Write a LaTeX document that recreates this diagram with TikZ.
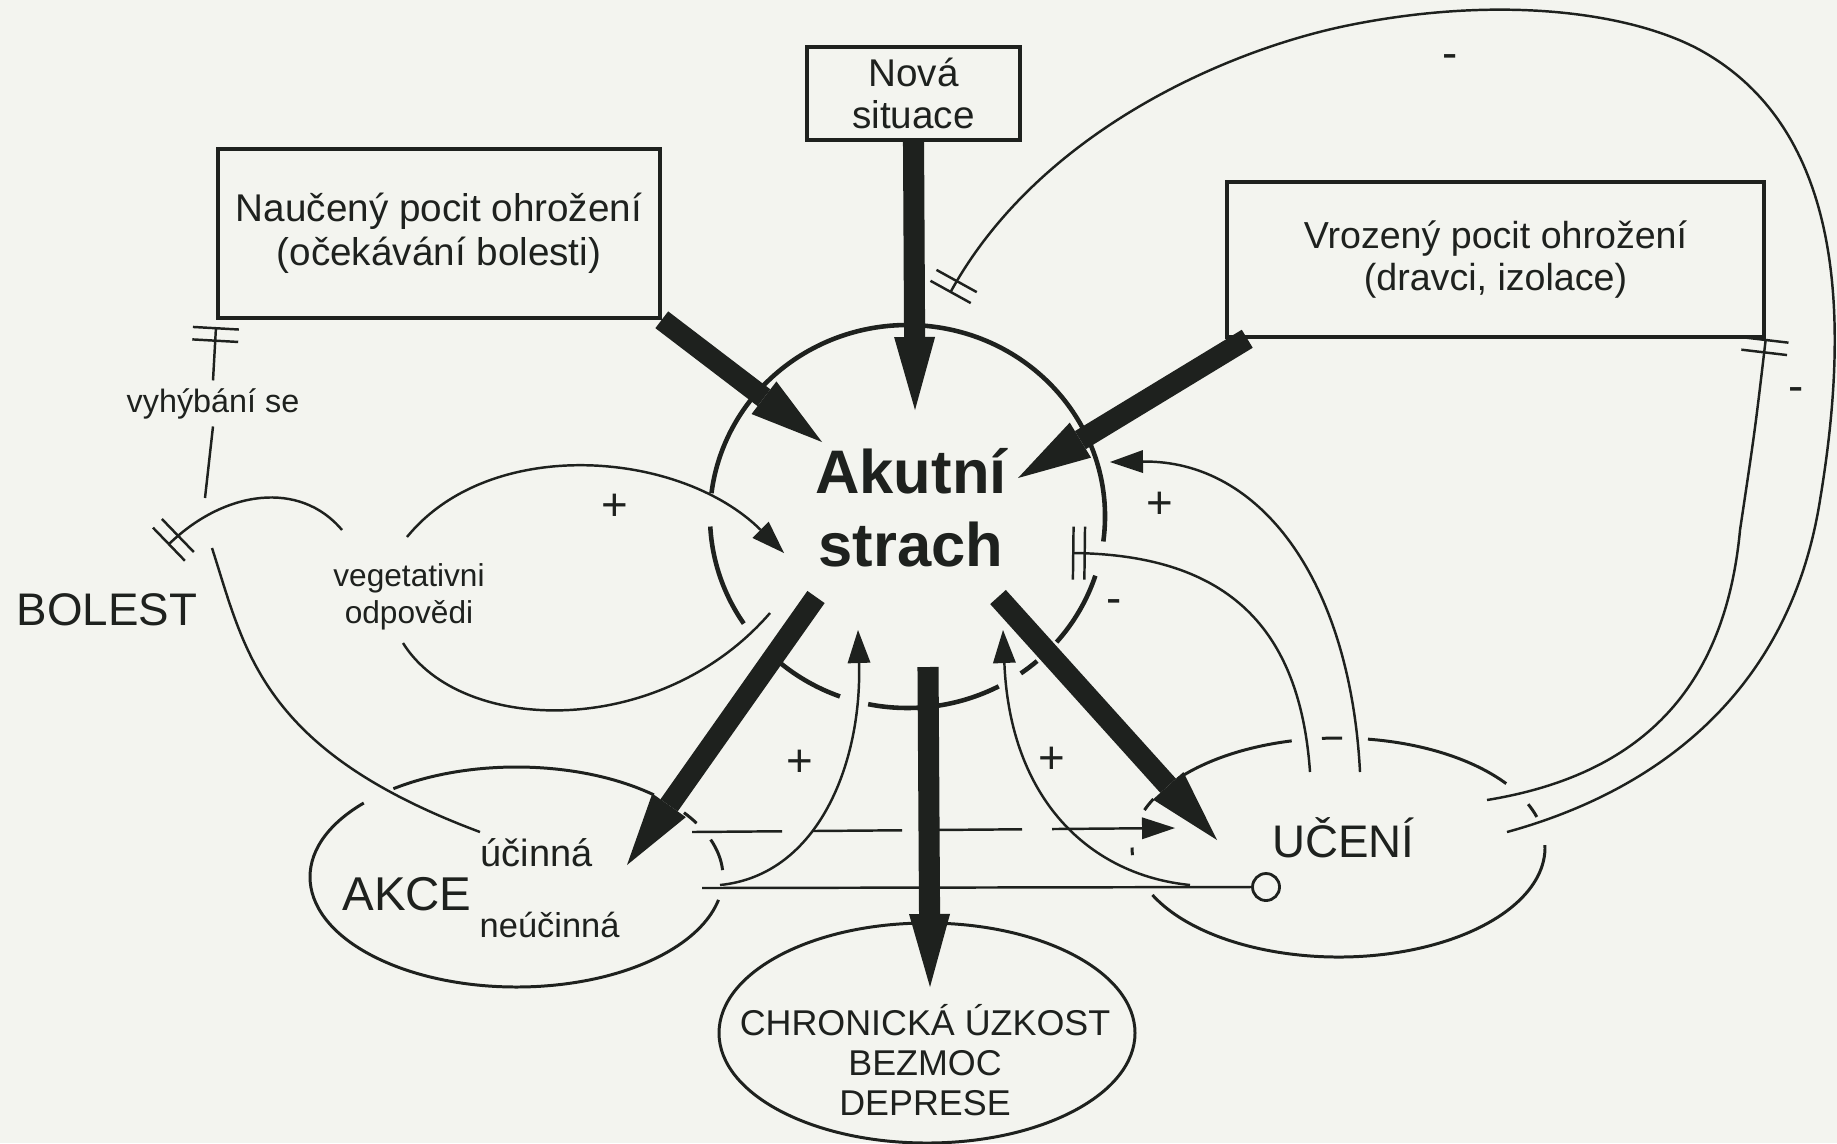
\documentclass[tikz,border=0pt]{standalone}
\usepackage{fontspec}
\setmainfont{Liberation Sans}
\usetikzlibrary{arrows.meta, calc, shapes.geometric}
\definecolor{ink}{HTML}{1E211E}
\definecolor{paper}{HTML}{F3F4EF}
\tikzset{
  box/.style={
    draw=ink, line width=1pt, inner sep=0pt, align=center,
    font=\fontsize{11}{12.5}\selectfont, text=ink
  },
  ring/.style={draw=ink, line width=1.3pt},
  oval/.style={draw=ink, line width=0.85pt},
  wire/.style={draw=ink, line width=0.7pt},
  fatarrow/.style={
    draw=ink, line width=6pt,
    -{Triangle[length=7.3mm, width=4.1mm, line width=0pt]}
  },
  thinarrow/.style={wire, -{Triangle[length=3.3mm, width=2.3mm, line width=0pt]}},
  tee/.style={wire, -{Bar[width=4.6mm, sep=1mm] Bar[width=4.6mm]}},
  lbl/.style={inner sep=0pt, text=ink, font=\fontsize{10.5}{12}\selectfont},
  sign/.style={inner sep=0pt, text=ink, font=\fontsize{13}{13}\selectfont}
}

\begin{document}
\begin{tikzpicture}

  \fill[paper] (0,0) rectangle (18.37,-11.43);
  \useasboundingbox (0,0) rectangle (18.37,-11.43);

  % ---- Sources of threat ---------------------------------------------------
  \node[box, minimum width=2.13cm, minimum height=0.93cm,
        font=\fontsize{11}{11.7}\selectfont] (nova) at (9.135,-0.935) {Nová\\situace};
  \node[box, minimum width=4.42cm, minimum height=1.69cm] (naucen) at (4.39,-2.335)
        {Naučený pocit ohrožení\\(očekávání bolesti)};
  \node[box, minimum width=5.37cm, minimum height=1.55cm,
        font=\fontsize{10.7}{12}\selectfont] (vrozen) at (14.955,-2.595)
        {Vrozený pocit ohrožení\\(dravci, izolace)};

  % ---- Acute fear (broken circle) ------------------------------------------
  \coordinate (sc) at (9.075,-5.165);
  \foreach \a/\b in {-7.5/173, 183/214, 230/250, 258.5/297.5, 305/311, 319/342} {
    \draw[ring] ($(sc)+(\a:1.975 and 1.915)$)
      arc[start angle=\a, end angle=\b, x radius=1.975, y radius=1.915];
  }
  \node[lbl, align=center, font=\fontsize{17.5}{20.8}\selectfont\bfseries]
        (strach) at (9.11,-5.08) {Akutní\\strach};

  % ---- AKCE / UCENI / chronic outcome --------------------------------------
  \coordinate (ak) at (5.165,-8.77);
  \foreach \a/\b in {137.7/348, 3.6/19.9, 29.3/35.8, 48.3/126.6} {
    \draw[oval] ($(ak)+(\a:2.065 and 1.10)$)
      arc[start angle=\a, end angle=\b, x radius=2.065, y radius=1.10];
  }
  \coordinate (uc) at (13.385,-8.475);
  \foreach \a/\b in {153.7/160, 180/184, 205.7/361.3, 16.2/23.3, 35.7/81.8, 89/94.6, 103.1/141.3} {
    \draw[oval] ($(uc)+(\a:2.065 and 1.095)$)
      arc[start angle=\a, end angle=\b, x radius=2.065, y radius=1.095];
  }
  \node[oval, ellipse, minimum width=4.16cm, minimum height=2.2cm] (chron) at (9.27,-10.33) {};

  \node[lbl, anchor=base, font=\fontsize{13.5}{14}\selectfont] (akce) at (4.07,-9.10) {AKCE};
  \node[lbl, anchor=base west, font=\fontsize{10.8}{12}\selectfont] (ucinna) at (4.80,-8.66) {účinná};
  \node[lbl, anchor=base west, font=\fontsize{9.8}{12}\selectfont] (neucinna) at (4.79,-9.37) {neúčinná};
  \node[lbl, anchor=base, font=\fontsize{13}{14}\selectfont] (uceni) at (13.435,-8.57) {UČENÍ};
  \node[draw=ink, line width=0.8pt, circle, inner sep=0pt, minimum size=0.27cm] (ocirc) at (12.66,-8.87) {};
  \node[lbl, align=center, font=\fontsize{10.2}{11.4}\selectfont] (chronlbl) at (9.25,-10.60)
        {CHRONICKÁ ÚZKOST\\BEZMOC\\DEPRESE};

  % ---- Pain ----------------------------------------------------------------
  \node[lbl, anchor=base, font=\fontsize{13}{14}\selectfont] (bolest) at (1.07,-6.25) {BOLEST};
  \node[lbl, anchor=base, inner sep=2pt, font=\fontsize{9.2}{10}\selectfont] (vyhyb) at (2.13,-4.12) {vyhýbání se};
  \node[lbl, align=center, font=\fontsize{9}{10.5}\selectfont] (veget) at (4.09,-5.97) {vegetativni\\odpovědi};

  % ---- Free ends -----------------------------------------------------------
  \coordinate (inN) at (8.22,-4.42);
  \coordinate (inS) at (9.15,-4.10);
  \coordinate (inV) at (10.18,-4.78);
  \coordinate (outA) at (8.16,-5.97);
  \coordinate (tipA) at (6.27,-8.65);
  \coordinate (outU) at (9.98,-5.97);
  \coordinate (tipU) at (12.17,-8.40);
  \coordinate (outC) at (9.28,-6.67);
  \coordinate (tipC) at (9.30,-9.87);
  \coordinate (uOut) at (15.07,-8.32);
  \coordinate (uIn) at (14.87,-8.00);
  \coordinate (loopEnd) at (9.50,-2.93);
  \coordinate (uPlus) at (13.60,-7.72);
  \coordinate (sPlus) at (11.10,-4.62);
  \coordinate (uMinus) at (13.10,-7.72);
  \coordinate (sMinus) at (10.72,-5.53);
  \coordinate (dStart) at (6.92,-8.32);
  \coordinate (dEnd) at (11.75,-8.28);
  \coordinate (sStart) at (7.02,-8.88);
  \coordinate (aPlus) at (7.20,-8.85);
  \coordinate (tipAp) at (8.58,-6.30);
  \coordinate (oPlus) at (11.90,-8.85);
  \coordinate (tipUp) at (10.03,-6.30);
  \coordinate (vyTop) at (2.16,-3.27);
  \coordinate (vyBot) at (2.05,-4.98);
  \coordinate (vyLow) at (2.12,-5.48);
  \coordinate (akIn) at (4.80,-8.32);
  \coordinate (bolA) at (3.42,-5.30);
  \coordinate (bolT) at (1.68,-5.45);
  \coordinate (vgUp) at (4.07,-5.37);
  \coordinate (vgIn) at (7.84,-5.53);
  \coordinate (vgOut) at (7.70,-6.13);
  \coordinate (vgLo) at (4.03,-6.43);

  % ---- Feedback loops from learning ---------------------------------------
  \draw[tee] (uOut) .. controls (16.6,-7.9) and (17.9,-6.9) .. (18.2,-5.0)
    .. controls (18.5,-3.2) and (18.45,-1.3) .. (17.0,-0.5)
    .. controls (16.3,-0.12) and (15.0,0.05) .. (13.5,-0.25)
    .. controls (12.3,-0.49) and (10.4,-1.3) .. (loopEnd);
  \draw[tee] (uIn) .. controls (16.4,-7.75) and (17.25,-6.9) .. (17.4,-5.3)
    .. controls (17.55,-4.3) .. (vrozen.south east);
  \draw[thinarrow] (uPlus) .. controls (13.5,-5.8) and (12.6,-4.6) .. (sPlus);
  \draw[wire, -{Bar[width=5.3mm, sep=0.9mm] Bar[width=5.3mm]}]
    (uMinus) .. controls (13.0,-6.3) and (12.3,-5.55) .. (sMinus);

  % ---- Action paths --------------------------------------------------------
  \draw[wire, dash pattern=on 0.9cm off 0.3cm,
        -{Triangle[length=3.3mm, width=2.2mm, line width=0pt]}] (dStart) -- (dEnd);
  \draw[wire] (sStart) -- (ocirc.west);
  \draw[thinarrow] (aPlus) .. controls (8.2,-8.75) and (8.62,-7.6) .. (tipAp);
  \draw[thinarrow] (oPlus) .. controls (10.9,-8.75) and (10.1,-8.0) .. (tipUp);

  % ---- Pain, avoidance, vegetative loop -----------------------------------
  \draw[tee] (vyhyb.north) -- (vyTop);
  \draw[wire] (vyhyb.south) -- (vyBot);
  \draw[wire] (vyLow) .. controls (2.45,-6.5) and (2.6,-7.5) .. (akIn);
  \draw[tee] (bolA) .. controls (3.0,-4.8) and (2.25,-4.9) .. (bolT);
  \draw[thinarrow] (vgUp) .. controls (4.9,-4.35) and (6.8,-4.5) .. (vgIn);
  \draw[wire] (vgOut) .. controls (6.6,-7.4) and (4.6,-7.35) .. (vgLo);

  % ---- Main arrows ---------------------------------------------------------
  \draw[fatarrow] (naucen.south east) -- (inN);
  \draw[fatarrow] (nova.south) -- (inS);
  \draw[fatarrow] ($(vrozen.south west)+(0.22,0)$) -- (inV);
  \draw[fatarrow] (outA) -- (tipA);
  \draw[fatarrow] (outU) -- (tipU);
  \draw[fatarrow] (outC) -- (tipC);

  % ---- Signs ---------------------------------------------------------------
  \node[sign] (pV) at (6.15,-5.07) {+};
  \node[sign] (pR) at (11.60,-5.05) {+};
  \node[sign] (pA) at (8.00,-7.63) {+};
  \node[sign] (pU) at (10.52,-7.60) {+};
  \node[sign] (mT) at (11.14,-6.07) {-};
  \node[sign] (mL) at (14.50,-0.62) {-};
  \node[sign] (mR) at (17.96,-3.95) {-};

\end{tikzpicture}
\end{document}
